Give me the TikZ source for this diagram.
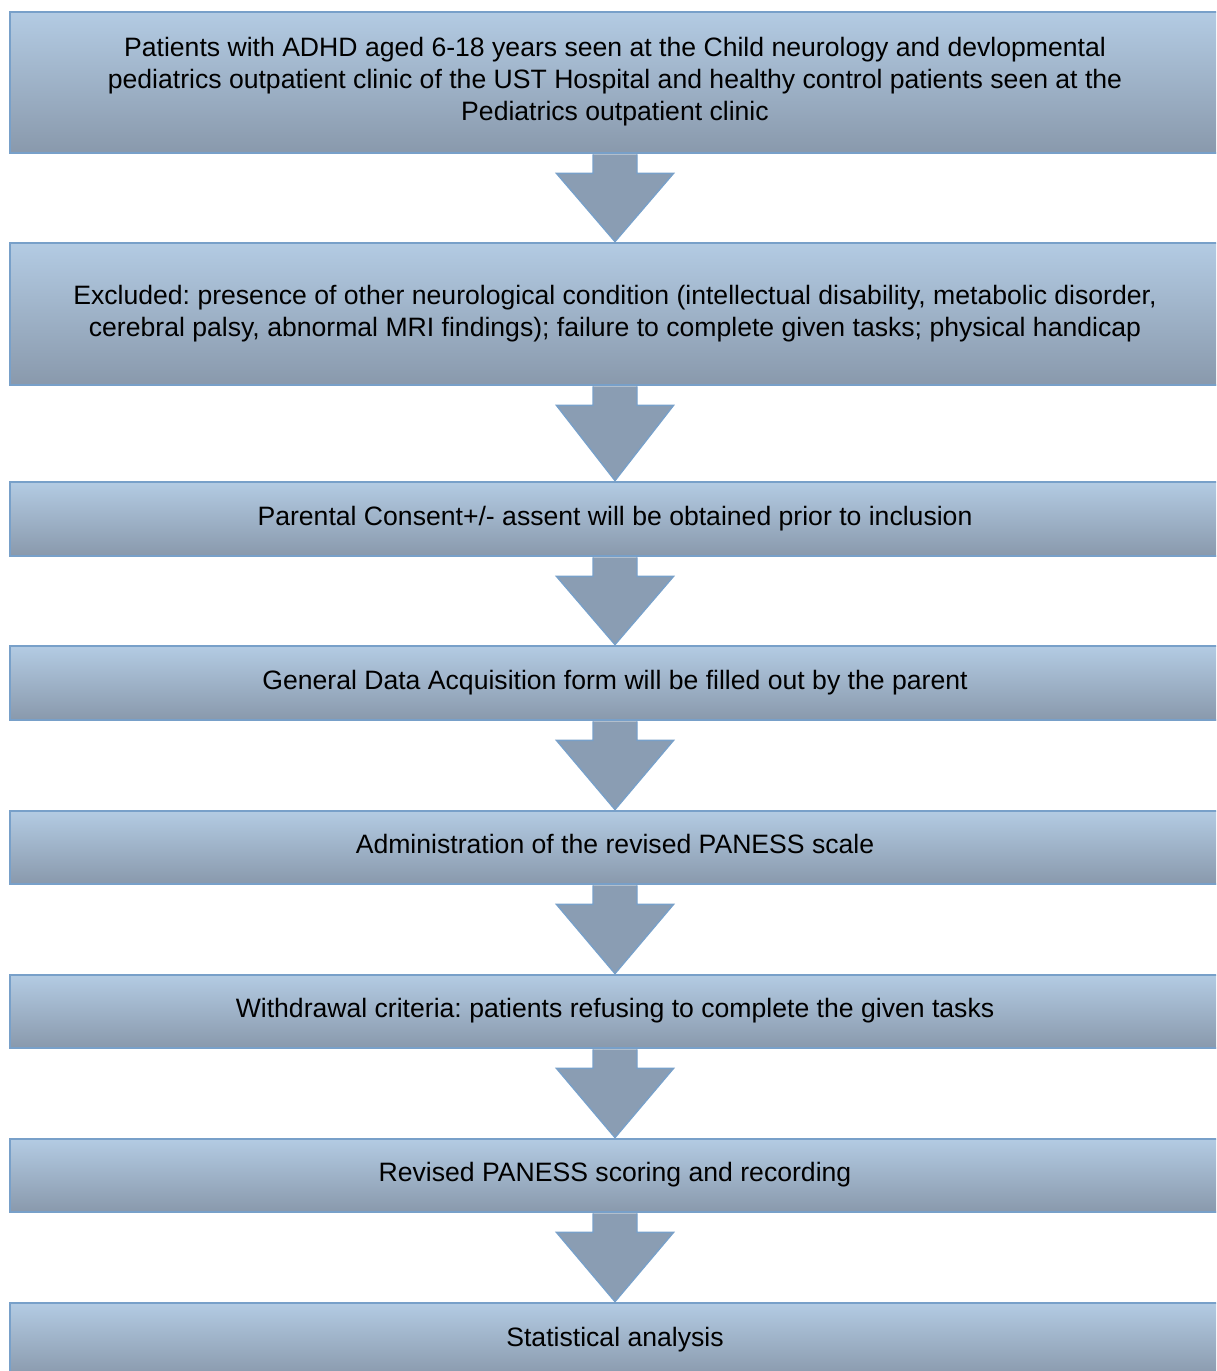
\documentclass[tikz,border=0pt]{standalone}
\usepackage{fontspec}
\setmainfont{Liberation Sans}
\usetikzlibrary{calc}
\frenchspacing
\definecolor{boxtop}{RGB}{179,203,227}
\definecolor{boxbot}{RGB}{137,153,172}
\definecolor{edge}{RGB}{120,160,201}
\definecolor{arrowfill}{RGB}{138,157,179}
% centred block of lines, lifted slightly above the box centre
\newcommand{\flowtext}[1]{\raisebox{3.5pt}{\begin{tabular}{@{}c@{}}#1\end{tabular}}}
\begin{document}
\begin{tikzpicture}[x=1pt,y=-1pt,
  stepbox/.style={draw=edge, line width=2.8pt, top color=boxtop, bottom color=boxbot,
    minimum width=1210pt, inner sep=0pt, text=black,
    font=\fontsize{26.6}{32}\selectfont},
  flowarrow/.style={fill=arrowfill, draw=edge, line width=1.4pt, line join=miter}]
\clip (0,0) rectangle (1216,1371);
\fill[white] (0,0) rectangle (1216,1371);

\node[stepbox, minimum height=141pt] (b1) at (615,82.5) {\flowtext{%
  Patients with ADHD aged 6-18 years seen at the Child neurology and devlopmental\\
  pediatrics outpatient clinic of the UST Hospital and healthy control patients seen at the\\
  Pediatrics outpatient clinic}};
\node[stepbox, minimum height=142pt] (b2) at (615,314) {\flowtext{%
  Excluded: presence of other neurological condition (intellectual disability, metabolic disorder,\\
  cerebral palsy, abnormal MRI findings); failure to complete given tasks; physical handicap}};
\node[stepbox, minimum height=74pt] (b3) at (615,519) {\flowtext{Parental Consent+/- assent will be obtained prior to inclusion}};
\node[stepbox, minimum height=74pt] (b4) at (615,683) {\flowtext{General Data Acquisition form will be filled out by the parent}};
\node[stepbox, minimum height=73pt] (b5) at (615,847.5) {\flowtext{Administration of the revised PANESS scale}};
\node[stepbox, minimum height=73pt] (b6) at (615,1011.5) {\flowtext{Withdrawal criteria: patients refusing to complete the given tasks}};
\node[stepbox, minimum height=73pt] (b7) at (615,1175.5) {\flowtext{Revised PANESS scoring and recording}};
\node[stepbox, minimum height=74pt] (b8) at (615,1340) {\flowtext{Statistical analysis}};

% block arrows between consecutive boxes
\foreach \a/\b in {b1/b2,b2/b3,b3/b4,b4/b5,b5/b6,b6/b7,b7/b8}{
  \filldraw[flowarrow] let \p1=(\a.south), \p2=(\b.north) in
    (\x1-22pt,\y1) -- (\x1-22pt,\y1-19pt) -- (\x1-58.5pt,\y1-19pt) -- (\x1,\y2)
    -- (\x1+58.5pt,\y1-19pt) -- (\x1+22pt,\y1-19pt) -- (\x1+22pt,\y1);
}
\end{tikzpicture}
\end{document}
